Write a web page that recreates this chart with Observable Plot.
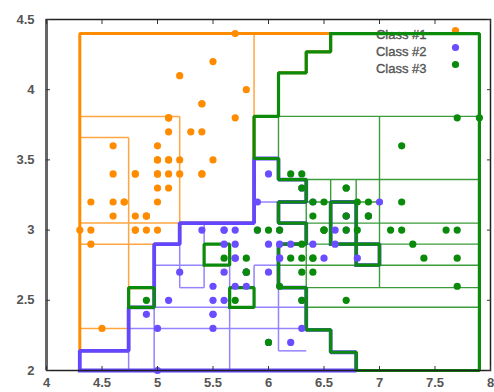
<!DOCTYPE html>
<html><head><meta charset="utf-8">
<script src="https://cdn.jsdelivr.net/npm/d3@7"></script>
<script src="https://cdn.jsdelivr.net/npm/@observablehq/plot@0.6"></script>
<style>body{margin:0;background:#fff;}</style>
</head><body><div id="chart"></div>
<script>
// Class #1 (sepal length, sepal width)
const class1X = [5.1,4.9,4.7,4.6,5.0,5.4,4.6,5.0,4.4,4.9,5.4,4.8,4.8,4.3,5.8,5.7,5.4,5.1,5.7,5.1,5.4,5.1,4.6,5.1,4.8,5.0,5.0,5.2,5.2,4.7,4.8,5.4,5.2,5.5,4.9,5.0,5.5,4.9,4.4,5.1,5.0,4.5,4.4,5.0,5.1,4.8,5.1,4.6,5.3,5.0];
const class1Y = [3.5,3.0,3.2,3.1,3.6,3.9,3.4,3.4,2.9,3.1,3.7,3.4,3.0,3.0,4.0,4.4,3.9,3.5,3.8,3.8,3.4,3.7,3.6,3.3,3.4,3.0,3.4,3.5,3.4,3.2,3.1,3.4,4.1,4.2,3.1,3.2,3.5,3.1,3.0,3.4,3.5,2.3,3.2,3.5,3.8,3.0,3.8,3.2,3.7,3.3];
// Class #2
const class2X = [7.0,6.4,6.9,5.5,6.5,5.7,6.3,4.9,6.6,5.2,5.0,5.9,6.0,6.1,5.6,6.7,5.6,5.8,6.2,5.6,5.9,6.1,6.3,6.1,6.4,6.6,6.8,6.7,6.0,5.7,5.5,5.5,5.8,6.0,5.4,6.0,6.7,6.3,5.6,5.5,5.5,6.1,5.8,5.0,5.6,5.7,5.7,6.2,5.1,5.7];
const class2Y = [3.2,3.2,3.1,2.3,2.8,2.8,3.3,2.4,2.9,2.7,2.0,3.0,2.2,2.9,2.9,3.1,3.0,2.7,2.2,2.5,3.2,2.8,2.5,2.8,2.9,3.0,2.8,3.0,2.9,2.6,2.4,2.4,2.7,2.7,3.0,3.4,3.1,2.3,3.0,2.5,2.6,3.0,2.6,2.3,2.7,3.0,2.9,2.9,2.5,2.8];
// Class #3
const class3X = [6.3,5.8,7.1,6.3,6.5,7.6,4.9,7.3,6.7,7.2,6.5,6.4,6.8,5.7,5.8,6.4,6.5,7.7,7.7,6.0,6.9,5.6,7.7,6.3,6.7,7.2,6.2,6.1,6.4,7.2,7.4,7.9,6.4,6.3,6.1,7.7,6.3,6.4,6.0,6.9,6.7,6.9,5.8,6.8,6.7,6.7,6.3,6.5,6.2,5.9];
const class3Y = [3.3,2.7,3.0,2.9,3.0,3.0,2.5,2.9,2.5,3.6,3.2,2.7,3.0,2.5,2.8,3.2,3.0,3.8,2.6,2.2,3.2,2.8,2.8,2.7,3.3,3.2,2.8,3.0,2.8,3.0,2.8,3.8,2.8,2.8,2.6,3.0,3.4,3.1,3.0,3.1,3.1,3.1,2.7,3.2,3.3,3.0,2.5,3.0,3.4,3.0];

const classNames = ["Class #1", "Class #2", "Class #3"];
const classColors = ["#ff8c00", "#6a4dff", "#0a8a0a"];
const xTicks = [4, 4.5, 5, 5.5, 6, 6.5, 7, 7.5, 8];
const yTicks = [2, 2.5, 3, 3.5, 4, 4.5];

// Region outlines (data units) - outer boundaries of each class region
const orangeOutline = [[4.3,2.14],[4.3,4.4],[6.56,4.4],[6.56,4.27],[6.34,4.27],[6.34,4.12],[6.09,4.12],[6.09,3.81],[5.87,3.81],[5.87,3.05],[5.2,3.05],[5.2,2.9],[4.97,2.9],[4.97,2.59],[4.74,2.59],[4.74,2.14],[4.3,2.14]];
const purpleOutline = [[4.3,2.0],[4.3,2.14],[4.74,2.14],[4.74,2.45],[4.97,2.45],[4.97,2.9],[5.2,2.9],[5.2,3.05],[5.87,3.05],[5.87,3.51],[6.09,3.51],[6.09,3.36],[6.34,3.36],[6.34,3.2],[6.09,3.2],[6.09,3.05],[6.34,3.05],[6.34,2.9],[6.09,2.9],[6.09,2.59],[6.34,2.59],[6.34,2.29],[6.56,2.29],[6.56,2.13],[6.79,2.13],[6.79,2.0],[4.3,2.0]];
const purpleIslands = [
  [[6.56,2.9],[6.56,3.2],[6.79,3.2],[6.79,2.9],[6.56,2.9]],
  [[6.79,2.75],[6.79,2.9],[7.0,2.9],[7.0,2.75],[6.79,2.75]]
];
const greenOutline = [[6.56,4.4],[7.9,4.4],[7.9,2.0],[6.79,2.0],[6.79,2.13],[6.56,2.13],[6.56,2.29],[6.34,2.29],[6.34,2.59],[6.09,2.59],[6.09,2.9],[6.34,2.9],[6.34,3.05],[6.09,3.05],[6.09,3.2],[6.34,3.2],[6.34,3.36],[6.09,3.36],[6.09,3.51],[5.87,3.51],[5.87,3.81],[6.09,3.81],[6.09,4.12],[6.34,4.12],[6.34,4.27],[6.56,4.27],[6.56,4.4]];
const greenIslands = [
  [[4.74,2.45],[4.74,2.59],[4.97,2.59],[4.97,2.45],[4.74,2.45]],
  [[5.42,2.75],[5.42,2.9],[5.65,2.9],[5.65,2.75],[5.42,2.75]],
  [[5.65,2.45],[5.65,2.59],[5.87,2.59],[5.87,2.45],[5.65,2.45]]
];

// Thin cell boundaries [x1,y1,x2,y2]
const orangeThin = [[4.3,3.81,5.2,3.81],[5.2,3.81,5.2,3.05],[4.3,3.66,4.74,3.66],[4.74,3.66,4.74,2.14],[4.3,3.05,5.2,3.05],[4.3,2.9,4.97,2.9],[4.3,2.3,4.74,2.3],[5.87,4.4,5.87,3.81]];
const purpleThin = [[4.74,2.14,4.74,2.0],[4.97,2.45,4.97,2.0],[4.74,2.3,6.34,2.3],[4.97,2.45,6.34,2.45],[5.2,2.9,5.2,2.59],[5.2,2.59,5.42,2.59],[4.97,2.75,5.42,2.75],[5.42,3.05,5.42,2.59],[5.65,2.75,5.65,2.0],[5.87,2.75,5.87,2.59],[5.87,2.75,6.09,2.75],[5.87,3.2,6.09,3.2],[6.09,2.59,6.09,2.14],[6.09,2.14,6.34,2.14]];
const greenThin = [[6.09,3.81,7.9,3.81],[6.09,3.81,6.09,3.51],[7.0,3.81,7.0,2.59],[6.34,3.36,7.9,3.36],[6.56,3.36,6.56,2.9],[6.79,3.36,6.79,2.9],[6.34,3.2,7.0,3.2],[6.34,3.05,7.9,3.05],[7.0,2.9,7.9,2.9],[6.34,2.9,6.79,2.9],[6.09,2.75,7.9,2.75],[6.34,2.9,6.34,2.59],[6.34,3.05,6.34,3.2],[6.34,2.59,7.9,2.59],[6.34,2.45,7.9,2.45]];

const pts = (xs, ys, c) => xs.map((x, i) => ({x, y: ys[i], c}));
const points = [...pts(class1X, class1Y, 0), ...pts(class2X, class2Y, 1), ...pts(class3X, class3Y, 2)];
const poly = (list) => list.flatMap((p, j) => p.map(([x, y]) => ({x, y, id: j})));
const segs = (arr) => arr.map(([x1, y1, x2, y2]) => ({x1, y1, x2, y2}));
const linkOpts = (stroke, w) => ({x1: "x1", y1: "y1", x2: "x2", y2: "y2", stroke, strokeWidth: w});
const lineOpts = (stroke, w) => ({x: "x", y: "y", z: "id", stroke, strokeWidth: w, strokeLinejoin: "miter", strokeLinecap: "square"});

const legendMarks = classNames.flatMap((name, i) => [
  Plot.text([name], {frameAnchor: "top-right", dx: -64, dy: 10 + 17 * i, text: d => d, textAnchor: "end", fontSize: 13, fill: "#555", stroke: "#555", strokeWidth: 0.35}),
  Plot.dot([name], {frameAnchor: "top-right", dx: -35, dy: 11 + 17 * i, r: 3.6, fill: classColors[i]})
]);

const chart = Plot.plot({
  width: 494, height: 392,
  marginLeft: 46, marginRight: 4, marginTop: 19, marginBottom: 22,
  x: {domain: [4, 8]},
  y: {domain: [2, 4.5]},
  style: {fontFamily: "'Liberation Sans', Arial, sans-serif", background: "#fff"},
  marks: [
    ...legendMarks,
    Plot.link(segs(orangeThin), linkOpts("#ffa640", 1.5)),
    Plot.link(segs(purpleThin), linkOpts("#9484ff", 1.5)),
    Plot.link(segs(greenThin), linkOpts("#3a9c3a", 1.4)),
    Plot.line(poly([orangeOutline]), lineOpts("#ff8c00", 3)),
    Plot.line(poly([purpleOutline, ...purpleIslands]), lineOpts("#6347ff", 3.8)),
    Plot.line(poly([greenOutline, ...greenIslands, ...purpleIslands]), lineOpts("#0b8a0b", 3.2)),
    Plot.dot(points, {x: "x", y: "y", r: 3.6, fill: d => classColors[d.c]}),
    Plot.frame({stroke: "#222", strokeWidth: 1.5}),
    Plot.ruleX([4], {stroke: "#666", strokeWidth: 3}),
    Plot.axisX(xTicks, {anchor: "bottom", tickSize: -4, fill: "none", stroke: "#333", label: null}),
    Plot.axisX(xTicks, {anchor: "top", tickSize: -4, fill: "none", stroke: "#333", label: null}),
    Plot.axisY(yTicks, {anchor: "left", tickSize: -4, fill: "none", stroke: "#333", label: null}),
    Plot.axisY(yTicks, {anchor: "right", tickSize: -4, fill: "none", stroke: "#333", label: null}),
    Plot.text(xTicks, {x: d => d, frameAnchor: "bottom", dy: 16, text: d => String(d), fontSize: 13, fontWeight: "bold", fill: "#555"}),
    Plot.text(yTicks, {y: d => d, frameAnchor: "left", dx: -12, textAnchor: "end", text: d => String(d), fontSize: 13, fontWeight: "bold", fill: "#555"})
  ]
});
document.getElementById("chart").appendChild(chart);
</script>
</body></html>
